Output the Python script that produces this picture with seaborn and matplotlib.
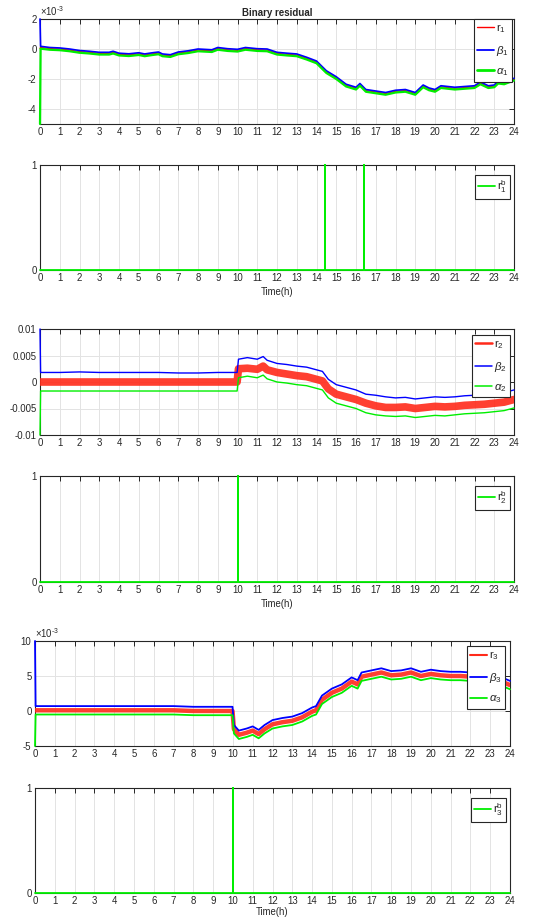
import numpy as np
import pandas as pd
import matplotlib
matplotlib.use("Agg")
import matplotlib.pyplot as plt
import seaborn as sns
from matplotlib.ticker import FixedLocator, FixedFormatter, FuncFormatter

# ---------------- data (residual values in units of 1e-3) ----------------
t1 = [0, 0.03, 0.5, 1, 1.5, 2, 2.5, 3, 3.5, 3.7, 4, 4.5, 5, 5.3, 5.7, 6, 6.2, 6.6, 7, 7.5,
      8, 8.7, 9, 9.5, 10, 10.4, 11, 11.5, 12, 12.5, 13, 13.5, 14, 14.5, 15, 15.5, 16, 16.2, 16.5, 17,
      17.5, 18, 18.5, 19, 19.4, 19.7, 20, 20.3, 21, 21.5, 22, 22.3, 22.7, 23, 23.2, 23.5, 24]
beta1 = [2.0, 0.18, 0.1, 0.07, 0.0, -0.1, -0.15, -0.22, -0.22, -0.15, -0.28, -0.32, -0.25, -0.33, -0.25, -0.2, -0.33, -0.38, -0.2, -0.12,
         0.0, -0.05, 0.1, 0.02, -0.02, 0.1, 0.02, 0.0, -0.22, -0.28, -0.33, -0.55, -0.8, -1.45, -1.85, -2.35, -2.55, -2.3, -2.7, -2.8,
         -2.9, -2.75, -2.7, -2.9, -2.4, -2.6, -2.7, -2.45, -2.55, -2.5, -2.45, -2.2, -2.45, -2.4, -2.15, -2.2, -1.95]
r1 = [0.05, 0.1, 0.03, 0.0, -0.07, -0.17, -0.22, -0.29, -0.29, -0.22, -0.35, -0.39, -0.32, -0.4, -0.32, -0.27, -0.4, -0.45, -0.27, -0.19,
      -0.07, -0.12, 0.03, -0.05, -0.09, 0.03, -0.05, -0.07, -0.29, -0.35, -0.4, -0.62, -0.87, -1.52, -1.92, -2.42, -2.62, -2.37, -2.77, -2.87,
      -2.97, -2.82, -2.77, -2.97, -2.47, -2.67, -2.77, -2.52, -2.62, -2.57, -2.52, -2.27, -2.52, -2.47, -2.22, -2.27, -2.05]
alpha1 = [-5.0, 0.02, -0.05, -0.08, -0.15, -0.25, -0.3, -0.37, -0.37, -0.3, -0.43, -0.47, -0.4, -0.48, -0.4, -0.35, -0.48, -0.53, -0.35, -0.27,
          -0.15, -0.2, -0.05, -0.13, -0.17, -0.05, -0.13, -0.15, -0.37, -0.43, -0.48, -0.7, -0.95, -1.6, -2.0, -2.5, -2.7, -2.45, -2.85, -2.95,
          -3.05, -2.9, -2.85, -3.05, -2.55, -2.75, -2.85, -2.6, -2.7, -2.65, -2.6, -2.35, -2.6, -2.55, -2.3, -2.35, -2.1]

t2 = [0, 0.03, 1, 2, 3, 4, 5, 6, 7, 8, 9, 9.98, 10.05, 10.5, 11, 11.3, 11.5, 12, 12.5, 13,
      13.5, 14, 14.3, 14.6, 15, 15.5, 16, 16.5, 17, 17.5, 18, 18.5, 19, 19.5, 20, 20.5, 21, 21.5, 22, 22.5,
      23, 23.5, 24]
beta2 = [10, 1.8, 1.8, 1.9, 1.8, 1.8, 1.8, 1.8, 1.7, 1.7, 1.8, 1.8, 4.3, 4.6, 4.3, 4.8, 4.1, 3.5, 3.3, 3.0,
         2.8, 2.3, 2.0, 0.5, -0.5, -1.0, -1.5, -2.3, -2.5, -2.8, -3.0, -2.9, -3.2, -3.0, -2.8, -2.9, -2.8, -2.6, -2.5, -2.4,
         -2.3, -2.0, -1.5]
r2 = [0, 0, 0, 0, 0, 0, 0, 0, 0, 0, 0, 0, 2.5, 2.6, 2.4, 3.0, 2.3, 1.8, 1.5, 1.2,
      1.0, 0.5, 0.2, -1.3, -2.3, -2.8, -3.3, -4.0, -4.5, -4.8, -4.8, -4.7, -5.0, -4.8, -4.6, -4.7, -4.6, -4.4, -4.3, -4.2,
      -4.0, -3.8, -3.3]
alpha2 = [-10, -1.7, -1.7, -1.7, -1.7, -1.7, -1.7, -1.7, -1.7, -1.7, -1.7, -1.7, 0.8, 1.1, 0.8, 1.3, 0.6, 0.0, -0.2, -0.5,
          -0.7, -1.2, -1.5, -3.0, -4.0, -4.5, -5.0, -5.8, -6.2, -6.4, -6.5, -6.4, -6.7, -6.5, -6.3, -6.4, -6.2, -6.0, -5.9, -5.8,
          -5.6, -5.4, -4.9]

t3 = [0, 0.03, 1, 2, 3, 4, 5, 6, 7, 8, 9, 9.98, 10.05, 10.3, 10.7, 11, 11.3, 11.6, 12, 12.5,
      13, 13.5, 14, 14.2, 14.5, 15, 15.5, 16, 16.3, 16.5, 17, 17.5, 18, 18.5, 19, 19.5, 20, 20.5, 21, 21.5,
      22, 22.5, 23, 23.5, 24]
beta3 = [10, 0.7, 0.7, 0.7, 0.7, 0.7, 0.7, 0.7, 0.7, 0.6, 0.6, 0.6, -2.0, -2.8, -2.5, -2.2, -2.7, -2.0, -1.3, -1.0,
         -0.8, -0.3, 0.5, 0.7, 2.2, 3.2, 3.8, 4.8, 4.4, 5.5, 5.8, 6.1, 5.7, 5.8, 6.1, 5.6, 5.9, 5.7, 5.6, 5.6,
         5.5, 5.3, 5.1, 4.9, 4.3]
r3 = [0.1, 0.1, 0.1, 0.1, 0.1, 0.1, 0.1, 0.1, 0.1, 0.0, 0.0, 0.0, -2.6, -3.4, -3.1, -2.8, -3.3, -2.6, -1.9, -1.6,
      -1.4, -0.9, -0.1, 0.1, 1.6, 2.6, 3.2, 4.2, 3.8, 4.9, 5.2, 5.5, 5.1, 5.2, 5.5, 5.0, 5.3, 5.1, 5.0, 5.0,
      4.9, 4.7, 4.5, 4.3, 3.7]
alpha3 = [-5.0, -0.5, -0.5, -0.5, -0.5, -0.5, -0.5, -0.5, -0.5, -0.6, -0.6, -0.6, -3.2, -4.0, -3.7, -3.4, -3.9, -3.2, -2.5, -2.2,
          -2.0, -1.5, -0.7, -0.5, 1.0, 2.0, 2.6, 3.6, 3.2, 4.3, 4.6, 4.9, 4.5, 4.6, 4.9, 4.4, 4.7, 4.5, 4.4, 4.4,
          4.3, 4.1, 3.9, 3.7, 3.1]

tb1 = [0, 14.43, 14.43, 14.43, 16.43, 16.43, 16.43, 24]
rb1 = [0, 0, 1, 0, 0, 1, 0, 0]
tb2 = [0, 10, 10, 10, 24]
rb2 = [0, 0, 1, 0, 0]
tb3 = [0, 10, 10, 10, 24]
rb3 = [0, 0, 1, 0, 0]

hours = list(range(0, 25))

# ---------------- style ----------------
sns.set_theme(style="white")
plt.rcParams["font.family"] = ["Liberation Sans", "DejaVu Sans"]
plt.rcParams["axes.unicode_minus"] = False
plt.rcParams["mathtext.fontset"] = "custom"
plt.rcParams["mathtext.rm"] = "Liberation Sans"
plt.rcParams["mathtext.it"] = "Liberation Sans:italic"
plt.rcParams["mathtext.default"] = "regular"

W, H = 541, 917
fig = plt.figure(figsize=(W / 100, H / 100), dpi=100)
TXT = "#262626"
FS = 6.9


def add_ax(l, t, r, b):
    return fig.add_axes([l / W, 1 - b / H, (r - l) / W, (b - t) / H])


def style_ax(ax, yt, ylim, xlabel=None, xpad=2.5):
    ax.set_xlim(0, 24)
    ax.set_ylim(*ylim)
    ax.xaxis.set_major_locator(FixedLocator(hours))
    ax.yaxis.set_major_locator(FixedLocator(yt))
    ax.grid(True, color="#e3e3e3", linewidth=0.7)
    ax.set_axisbelow(True)
    ax.tick_params(direction="in", length=3.5, width=0.7, top=True, right=True,
                   labelsize=FS, pad=2.5, colors=TXT, labelcolor=TXT)
    for s in ax.spines.values():
        s.set_color(TXT)
        s.set_linewidth(0.8)
    ax.set_ylabel("")
    if xlabel:
        ax.set_xlabel(xlabel, fontsize=FS, color=TXT, labelpad=xpad)
    else:
        ax.set_xlabel("")
    for ln in ax.lines:
        ln.set_clip_on(False)
        ln.set_zorder(3)


def legend(ax, anchor, spacing=0.9, hlw=None):
    leg = ax.legend(loc="upper right", bbox_to_anchor=anchor, fontsize=8.2, frameon=True,
                    fancybox=False, edgecolor=TXT, framealpha=1, borderpad=0.3,
                    labelspacing=spacing, handlelength=1.5, handletextpad=0.15, borderaxespad=0)
    leg.get_frame().set_linewidth(0.8)
    leg.set_zorder(5)
    if hlw is not None:
        for h, w in zip(leg.get_lines(), hlw):
            h.set_linewidth(w)
            h.set_alpha(1)


def milli(ax):
    ax.yaxis.set_major_formatter(FuncFormatter(lambda v, p: f"{v / 1e-3:g}"))
    ax.text(0.0, 1.012, r"×10$^{\text{-3}}$", transform=ax.transAxes, fontsize=FS,
            color=TXT, ha="left", va="bottom")


RED, BLUE, GREEN = "#ff0000", "#0000ff", "#00ee00"
e3 = 1e-3

# ---------- panel 1 ----------
ax1 = add_ax(40, 19, 514, 124)
d1 = pd.DataFrame({"t": t1, "r": np.array(r1) * e3, "b": np.array(beta1) * e3, "a": np.array(alpha1) * e3})
sns.lineplot(data=d1, x="t", y="r", ax=ax1, color=RED, lw=0.9, estimator=None, sort=False, label="r$_1$")
sns.lineplot(data=d1, x="t", y="b", ax=ax1, color=BLUE, lw=1.2, estimator=None, sort=False, label=r"$\mathit{\beta}_1$")
sns.lineplot(data=d1, x="t", y="a", ax=ax1, color=GREEN, lw=1.6, estimator=None, sort=False, label=r"$\mathit{\alpha}_1$")
style_ax(ax1, [-4e-3, -2e-3, 0, 2e-3], (-5e-3, 2e-3))
milli(ax1)
legend(ax1, (0.996, 1.0), spacing=0.75, hlw=[1.0, 1.3, 2.0])
ax1.set_title("Binary residual", fontsize=7, fontweight="bold", pad=2, color=TXT)

# ---------- panel 2 ----------
ax2 = add_ax(40, 165, 514, 270)
sns.lineplot(x=tb1, y=rb1, ax=ax2, color=GREEN, lw=1.3, estimator=None, sort=False, label="r$^b_1$")
style_ax(ax2, [0, 1], (0, 1), "Time(h)")
legend(ax2, (0.992, 0.905))

# ---------- panel 3 ----------
ax3 = add_ax(40, 329, 514, 435)
d2 = pd.DataFrame({"t": t2, "r": np.array(r2) * e3, "b": np.array(beta2) * e3, "a": np.array(alpha2) * e3})
sns.lineplot(data=d2, x="t", y="r", ax=ax3, color="#ff2a1a", lw=5.5, alpha=0.9, estimator=None, sort=False, label="r$_2$")
sns.lineplot(data=d2, x="t", y="b", ax=ax3, color=BLUE, lw=1.0, estimator=None, sort=False, label=r"$\mathit{\beta}_2$")
sns.lineplot(data=d2, x="t", y="a", ax=ax3, color=GREEN, lw=1.0, estimator=None, sort=False, label=r"$\mathit{\alpha}_2$")
style_ax(ax3, [-0.01, -0.005, 0, 0.005, 0.01], (-0.01, 0.01))
ax3.lines[0].set_clip_on(True)
ax3.yaxis.set_major_formatter(FixedFormatter(["-0.01", "-0.005", "0", "0.005", "0.01"]))
legend(ax3, (0.992, 0.945), spacing=0.75, hlw=[1.8, 1.1, 1.1])

# ---------- panel 4 ----------
ax4 = add_ax(40, 476, 514, 582)
sns.lineplot(x=tb2, y=rb2, ax=ax4, color=GREEN, lw=1.3, estimator=None, sort=False, label="r$^b_2$")
style_ax(ax4, [0, 1], (0, 1), "Time(h)")
legend(ax4, (0.992, 0.905))

# ---------- panel 5 ----------
ax5 = add_ax(35, 641, 510, 746)
d3 = pd.DataFrame({"t": t3, "r": np.array(r3) * e3, "b": np.array(beta3) * e3, "a": np.array(alpha3) * e3})
sns.lineplot(data=d3, x="t", y="r", ax=ax5, color="#ff2a1a", lw=3.2, alpha=0.9, estimator=None, sort=False, label="r$_3$")
sns.lineplot(data=d3, x="t", y="b", ax=ax5, color=BLUE, lw=1.3, estimator=None, sort=False, label=r"$\mathit{\beta}_3$")
sns.lineplot(data=d3, x="t", y="a", ax=ax5, color=GREEN, lw=1.3, estimator=None, sort=False, label=r"$\mathit{\alpha}_3$")
style_ax(ax5, [-5e-3, 0, 5e-3, 10e-3], (-5e-3, 10e-3))
ax5.lines[0].set_clip_on(True)
milli(ax5)
legend(ax5, (0.99, 0.95), spacing=0.75, hlw=[1.5, 1.3, 1.3])

# ---------- panel 6 ----------
ax6 = add_ax(35, 788, 510, 893)
sns.lineplot(x=tb3, y=rb3, ax=ax6, color=GREEN, lw=1.3, estimator=None, sort=False, label="r$^b_3$")
style_ax(ax6, [0, 1], (0, 1), "Time(h)", xpad=0.3)
legend(ax6, (0.992, 0.905))

fig.savefig("out.png", dpi=100)
